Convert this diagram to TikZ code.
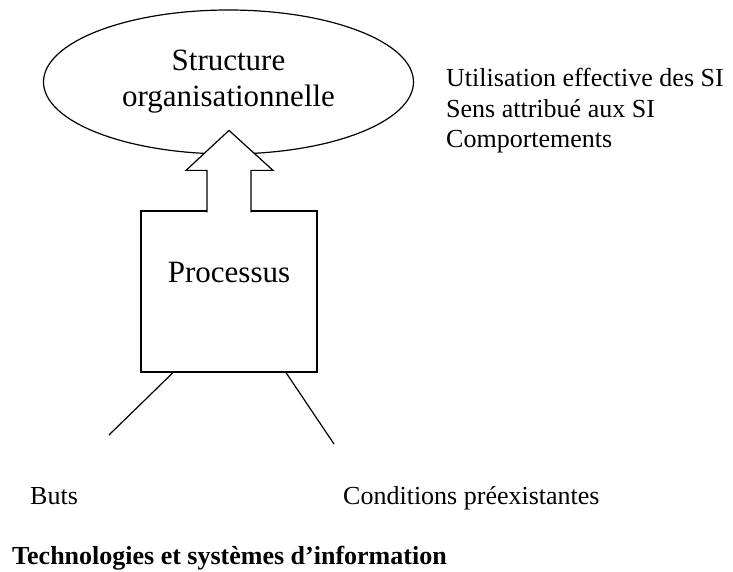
\documentclass[tikz,border=0pt]{standalone}
\usepackage{fontspec}
\setmainfont{Liberation Serif}
\usepackage{tikz}
\usetikzlibrary{shapes.geometric,calc}

\begin{document}
\begin{tikzpicture}[
        x=1pt, y=-1pt,
        structure/.style={ellipse, draw=black, line width=1.2pt, minimum width=370pt, minimum height=144pt, inner sep=0pt, align=center, font=\fontsize{31}{36}\selectfont},
        process/.style={rectangle, draw=black, line width=1.2pt, minimum width=176pt, minimum height=161pt, inner sep=0pt},
        bigtext/.style={anchor=base, inner sep=0pt, font=\fontsize{31}{36}\selectfont},
        plain/.style={anchor=base west, inner sep=0pt, font=\fontsize{26}{30}\selectfont},
        blockarrow/.style={draw=black, fill=white, line width=1.2pt, line join=miter},
        leg/.style={draw=black, line width=1.2pt}
    ]
    \useasboundingbox (0,0) rectangle (733,572);

    % Structure and process
    \node[structure] (org) at (228.5,82) {Structure\\ organisationnelle};
    \node[process] (proc) at (229,291.5) {};
    \node[bigtext] (proclabel) at (229,282) {Processus};

    % Block arrow from the process up into the structure
    \draw[blockarrow] ($(proc.north)+(-22,2)$) -- ++(0,-42) -- ++(-21,0)
        -- ($(proc.north)+(0,-80)$) -- ++(44,40) -- ++(-22,0) -- ($(proc.north)+(22,2)$);

    % Inputs under the process box
    \coordinate (butsend) at (109,435);
    \coordinate (condend) at (334,444);
    \draw[leg] ($(proc.south)+(-56,0)$) -- (butsend);
    \draw[leg] ($(proc.south)+(57,0)$) -- (condend);

    % Side labels
    \node[plain] (usage) at (446,87) {Utilisation effective des SI};
    \node[plain] (sens) at (446,118) {Sens attribué aux SI};
    \node[plain] (comport) at (446,148) {Comportements};
    \node[plain] (buts) at (30,504) {Buts};
    \node[plain] (cond) at (343,504) {Conditions préexistantes};
    \node[plain, font=\fontsize{26}{30}\selectfont\bfseries] (tsi) at (12,564) {Technologies et systèmes d’information};

\end{tikzpicture}
\end{document}
